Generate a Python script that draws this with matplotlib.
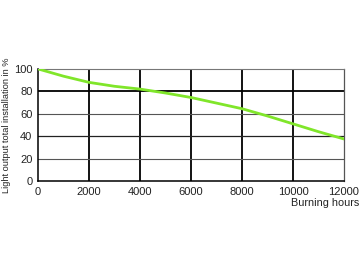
import numpy as np
import matplotlib.pyplot as plt

plt.rcParams['font.family'] = ['Liberation Sans', 'DejaVu Sans']

# data
hours = [0, 1000, 2000, 3000, 4000, 5000, 6000, 7000, 8000, 9000, 10000, 11000, 12000]
light = [100, 93.5, 88, 84.5, 82, 78.5, 74.5, 69.5, 64.5, 58, 51, 44, 37.5]

xticks = [0, 2000, 4000, 6000, 8000, 10000, 12000]
yticks = [0, 20, 40, 60, 80, 100]

fig = plt.figure(figsize=(3.6, 2.62), dpi=100)
ax = fig.add_axes([0.1056, 0.309, 0.85, 0.428])

# grid
for x in xticks[1:-1]:
    ax.axvline(x, color='black', lw=1.3, zorder=1)
for y in [20, 60]:
    ax.axhline(y, color='#555555', lw=0.8, zorder=1)
ax.axhline(40, color='#222222', lw=0.9, zorder=1)
ax.axhline(80, color='black', lw=1.3, zorder=1)

ax.plot(hours, light, color='#80e62a', lw=2, zorder=3, solid_capstyle='round')

ax.set_xlim(0, 12000)
ax.set_ylim(0, 100)
ax.set_xticks(xticks)
ax.set_yticks(yticks)
ax.tick_params(length=0, labelsize=8, pad=4, colors='#222222')

ax.spines['left'].set_linewidth(1.1)
ax.spines['bottom'].set_linewidth(1.1)
ax.spines['right'].set_color('#555555')
ax.spines['top'].set_color('#777777')
ax.spines['right'].set_linewidth(0.9)
ax.spines['top'].set_linewidth(0.8)

fig.text(0.006, 0.523, 'Light output total installation in %', rotation=90,
         ha='left', va='center', fontsize=6.6, color='#222222')
ax.text(1.049, -0.15, 'Burning hours', transform=ax.transAxes, ha='right', va='top',
        fontsize=7.8, color='#222222')

fig.savefig('out.png', dpi=100)
